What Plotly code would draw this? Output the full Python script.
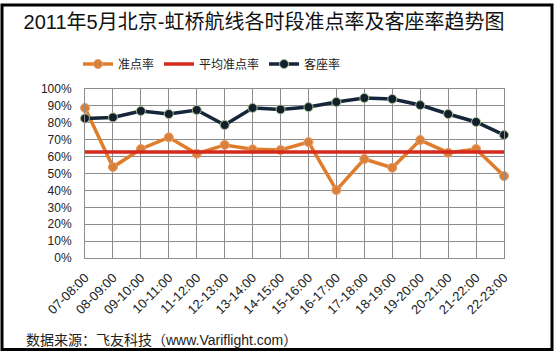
import plotly.graph_objects as go

categories = ["07-08:00", "08-09:00", "09-10:00", "10-11:00", "11-12:00", "12-13:00",
              "13-14:00", "14-15:00", "15-16:00", "16-17:00", "17-18:00", "18-19:00",
              "19-20:00", "20-21:00", "21-22:00", "22-23:00"]
on_time = [88.8, 53.8, 64.5, 71.4, 61.7, 66.9, 64.3, 63.9, 68.6, 40.2, 58.6, 53.4,
           69.8, 62.3, 64.5, 48.5]
avg_on_time = 62.7
load_factor = [82.6, 83.2, 87.0, 85.2, 87.6, 78.7, 88.8, 87.9, 89.3, 92.3, 94.7, 94.1,
               90.5, 85.2, 80.5, 72.8]
y_ticks = [0, 10, 20, 30, 40, 50, 60, 70, 80, 90, 100]

W, H = 554, 351
L, R, T, B = 85, 50, 89, 93
PW, PH = W - L - R, H - T - B

def px_x(x):
    return (x - L) / PW

def px_y(y):
    return (H - B - y) / PH

CJK = "Liberation Sans, Noto Sans CJK SC, sans-serif"

fig = go.Figure()
fig.add_trace(go.Scatter(
    x=categories, y=on_time, name="准点率", mode="lines+markers",
    line=dict(color="#E07D2C", width=3.5),
    marker=dict(size=9, color="#D9803A", line=dict(color="#E8A070", width=1)),
    cliponaxis=False))
fig.add_trace(go.Scatter(
    x=categories, y=[avg_on_time] * len(categories), name="平均准点率", mode="lines",
    line=dict(color="#D42A1E", width=3.5), cliponaxis=False))
fig.add_trace(go.Scatter(
    x=categories, y=load_factor, name="客座率", mode="lines+markers",
    line=dict(color="#16263A", width=3.5),
    marker=dict(size=9, color="#12202E", line=dict(color="#A8C090", width=1)),
    cliponaxis=False))

fig.update_layout(
    width=W, height=H,
    margin=dict(l=L, r=R, t=T, b=B),
    paper_bgcolor="white", plot_bgcolor="white",
    font=dict(family=CJK, color="#222222", size=12),
    title=dict(text="2011年5月北京-虹桥航线各时段准点率及客座率趋势图",
               x=264 / W, xref="container", xanchor="center",
               y=1 - 22 / H, yref="container", yanchor="middle",
               font=dict(size=20, color="#111111", family=CJK)),
    legend=dict(orientation="h", x=px_x(78), xanchor="left",
                y=px_y(64), yanchor="middle", font=dict(size=12),
                bgcolor="rgba(0,0,0,0)", itemwidth=30),
    showlegend=True,
    xaxis=dict(type="category", range=[0, len(categories) - 1],
               showgrid=True, gridcolor="#8C8C8C", gridwidth=1,
               showline=True, linecolor="#8C8C8C", linewidth=1, mirror=True,
               tickangle=-45, tickfont=dict(size=13, color="#222222"),
               ticklabelstandoff=6,
               ticks="", zeroline=False),
    yaxis=dict(range=[0, 100], tickvals=y_ticks,
               ticktext=[f"{v}%" for v in y_ticks],
               showgrid=True, gridcolor="#8C8C8C", gridwidth=1,
               showline=True, linecolor="#8C8C8C", linewidth=1, mirror=True,
               tickfont=dict(size=12, color="#222222"), ticks="",
               ticklabelstandoff=10, zeroline=False),
    shapes=[dict(type="rect", xref="paper", yref="paper",
                 x0=px_x(2), x1=px_x(552), y0=px_y(349.5), y1=px_y(5),
                 line=dict(color="black", width=3), fillcolor="rgba(0,0,0,0)")],
    annotations=[dict(text="数据来源：飞友科技（www.Variflight.com）",
                      xref="paper", yref="paper", x=px_x(24), y=px_y(340),
                      xanchor="left", yanchor="middle", showarrow=False,
                      font=dict(size=14, color="#222222", family=CJK))],
)

fig.write_html("out.html")
